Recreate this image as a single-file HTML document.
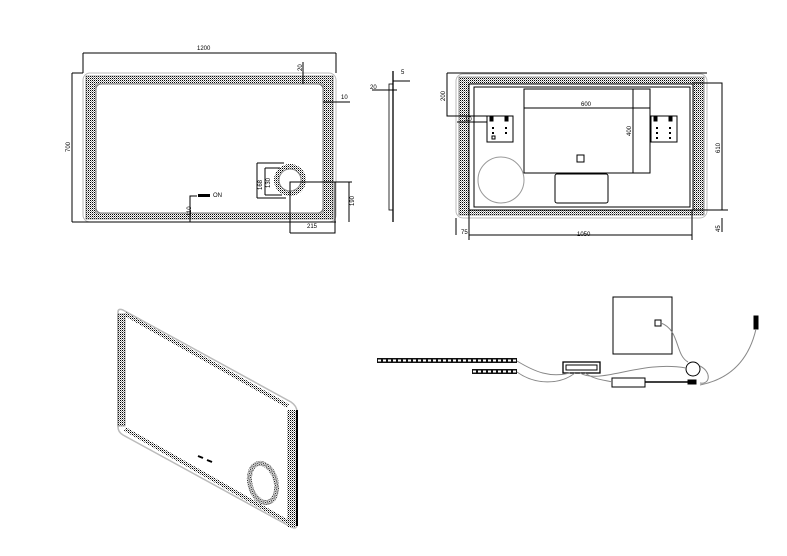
<!DOCTYPE html>
<html><head><meta charset="utf-8"><style>
html,body{margin:0;padding:0;background:#fff;width:787px;height:556px;overflow:hidden}
svg{display:block}
text{font-family:"Liberation Sans",sans-serif;font-size:6px;fill:#000}
</style></head><body>
<svg width="787" height="556" viewBox="0 0 787 556" xmlns="http://www.w3.org/2000/svg">
<defs>
<pattern id="d" width="2" height="2" patternUnits="userSpaceOnUse">
<rect width="2" height="2" fill="#fff"/><rect width="1" height="1" fill="#000"/><rect x="1" y="1" width="1" height="1" fill="#999"/>
</pattern>
</defs>
<g fill="none" stroke="#000" stroke-width="1">
<!-- TOP LEFT front view -->
<rect x="83" y="73" width="253" height="149" rx="7" stroke="#bbb"/>
<path d="M86,76 h247 v143 h-247 Z M96,84 v129 h227 v-129 Z" fill="url(#d)" fill-rule="evenodd" stroke="#444" stroke-width="0.6"/>
<rect x="96" y="84" width="227" height="129" rx="5" fill="#fff" stroke="#777"/>
<line x1="83" y1="53" x2="336" y2="53"/><line x1="83" y1="53" x2="83" y2="73"/><line x1="336" y1="53" x2="336" y2="73"/>
<line x1="72" y1="73" x2="72" y2="222"/><line x1="72" y1="73" x2="83" y2="73"/><line x1="72" y1="222" x2="336" y2="222"/>
<line x1="303" y1="62" x2="303" y2="84"/>
<line x1="323" y1="102" x2="350" y2="102"/>
<circle cx="290" cy="180" r="16" fill="url(#d)" stroke="none"/>
<circle cx="290" cy="180" r="11" fill="#fff" stroke="#888"/>
<line x1="257" y1="163" x2="257" y2="198"/><line x1="257" y1="163" x2="284" y2="163"/><line x1="257" y1="198" x2="286" y2="198"/>
<line x1="265" y1="168" x2="265" y2="195"/><line x1="265" y1="168" x2="280" y2="168"/><line x1="265" y1="195" x2="282" y2="195"/>
<path d="M290,233 V182 H352 M335,182 V233 H290"/>
<line x1="349" y1="182" x2="349" y2="222"/>
<path d="M190,222 V196 H197"/>
<rect x="198" y="194" width="12" height="3" fill="#000" stroke="none"/>
<!-- side view -->
<line x1="393" y1="71" x2="393" y2="222" stroke-width="1.3"/>
<rect x="389" y="84" width="4" height="126" stroke-width="0.8"/>
<line x1="372" y1="90" x2="397" y2="90"/><line x1="393" y1="81" x2="410" y2="81"/>
<!-- TOP RIGHT back view -->
<rect x="456" y="74" width="251" height="144" rx="7" stroke="#bbb"/>
<path d="M459,77 h245 v138 h-245 Z M469,84 v126 h224 v-126 Z" fill="url(#d)" fill-rule="evenodd" stroke="#444" stroke-width="0.6"/>
<rect x="469" y="84" width="224" height="126" fill="#fff"/>
<rect x="474" y="87" width="216" height="120"/>
<rect x="524" y="89" width="126" height="84"/>
<line x1="633" y1="89" x2="633" y2="173"/>
<line x1="524" y1="108" x2="650" y2="108"/>
<rect x="577" y="155" width="7" height="7"/>
<rect x="555" y="174" width="53" height="29" rx="2"/>
<rect x="487" y="116" width="26" height="26"/><rect x="651" y="116" width="26" height="26"/>
<path d="M490,116v5h3v-5 M505,116v5h3v-5 M654,116v5h3v-5 M669,116v5h3v-5" fill="#000"/>
<g fill="#000" stroke="none"><rect x="492" y="127" width="2" height="2"/><rect x="505" y="127" width="2" height="2"/><rect x="492" y="132" width="2" height="2"/><rect x="505" y="132" width="2" height="2"/>
<rect x="656" y="127" width="2" height="2"/><rect x="669" y="127" width="2" height="2"/><rect x="656" y="132" width="2" height="2"/><rect x="669" y="132" width="2" height="2"/><rect x="656" y="137" width="2" height="2"/><rect x="669" y="137" width="2" height="2"/></g>
<rect x="492" y="136" width="3" height="3"/>
<circle cx="501" cy="180" r="23" stroke="#999"/>
<path d="M447,73 H707 M447,73 V116 H487 M457,122 H487"/>
<path d="M693,83 H722 V210 M722,232 V218 M693,210 H728"/>
<path d="M469,240 V210 M692,240 V210 M456,235 V218 M469,235 H692"/>
<!-- ISOMETRIC -->
<path d="M118,312 Q118,308 123,310 L291,402 Q297,406 297,412 L297,524 Q297,530 291,527 L123,435 Q118,432 118,427 Z" stroke="#bbb" stroke-width="1.5"/>
<rect x="118" y="314" width="7" height="112" fill="url(#d)" stroke="#444" stroke-width="0.5"/>
<rect x="287" y="410" width="9" height="117" fill="url(#d)" stroke="none"/>
<line x1="297" y1="410" x2="297" y2="526" stroke-width="2"/>
<line x1="125" y1="314" x2="288" y2="406" stroke="url(#d)" stroke-width="4"/>
<line x1="125" y1="429" x2="288" y2="522" stroke="url(#d)" stroke-width="4"/>
<ellipse cx="263" cy="483" rx="13" ry="20" transform="rotate(-15 263 483)" stroke="url(#d)" stroke-width="5"/>
<path d="M198,456 l5,2 M207,460 l5,2" stroke-width="2"/>
<!-- WIRING -->
<rect x="613" y="297" width="59" height="57"/>
<rect x="655" y="320" width="6" height="6"/>
<rect x="377" y="358" width="140" height="5" fill="#111" stroke="none"/>
<line x1="378" y1="360.5" x2="516" y2="360.5" stroke="#fff" stroke-width="2" stroke-dasharray="3 2"/>
<rect x="472" y="369" width="45" height="5" fill="#111" stroke="none"/>
<line x1="473" y1="371.5" x2="516" y2="371.5" stroke="#fff" stroke-width="2" stroke-dasharray="3 2"/>
<rect x="563" y="362" width="37" height="11" stroke-width="1.3"/><rect x="566" y="365" width="31" height="5"/>
<rect x="612" y="378" width="33" height="9"/>
<circle cx="693" cy="369" r="7"/>
<rect x="754" y="316" width="4" height="13" fill="#000"/>
<g stroke="#888"><path d="M517,361 C535,372 550,378 570,373"/><path d="M517,372 C535,385 560,385 575,373"/>
<path d="M580,373 C600,385 640,360 686,368"/><path d="M585,373 C595,380 605,380 612,382"/>
<path d="M661,323 C680,330 675,355 688,362"/><path d="M700,366 C712,372 710,385 700,383"/>
<path d="M700,385 C735,378 750,355 756,329"/></g>
<path d="M645,382 H692" stroke-width="1.5"/>
<rect x="688" y="380" width="8" height="4" fill="#000"/>
</g>
<g>
<text x="197" y="50">1200</text>
<text transform="translate(70,152) rotate(-90)">700</text>
<text transform="translate(302,71) rotate(-90)">20</text>
<text x="341" y="99">10</text>
<text transform="translate(262,190) rotate(-90)">168</text>
<text transform="translate(270,188) rotate(-90)">130</text>
<text transform="translate(354,206) rotate(-90)">190</text>
<text x="307" y="228">215</text>
<text transform="translate(191,216) rotate(-90)">110</text>
<text x="213" y="197" font-size="4">ON</text>
<text x="370" y="89">20</text>
<text x="401" y="74">5</text>
<text transform="translate(445,101) rotate(-90)">200</text>
<text x="581" y="106">600</text>
<text transform="translate(631,136) rotate(-90)">400</text>
<text transform="translate(720,153) rotate(-90)">610</text>
<text transform="translate(720,232) rotate(-90)">45</text>
<text x="461" y="234">75</text>
<text x="577" y="236">1050</text>
<text x="465" y="121">10</text>
</g>
</svg>
</body></html>
